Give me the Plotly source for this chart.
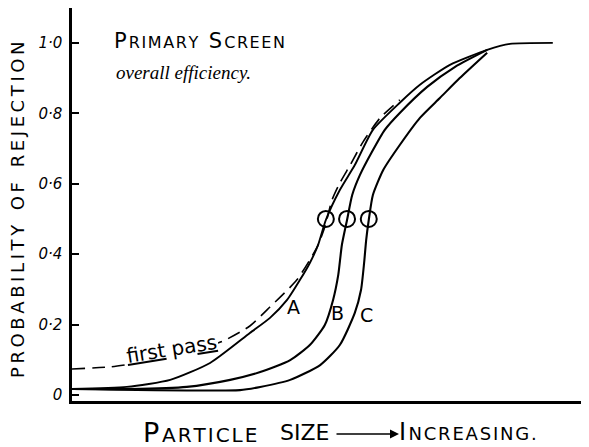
import plotly.graph_objects as go

# particle size (arbitrary units, 0-100 across the axis) and probability of rejection
size_a = [0, 10.6, 19.0, 26.7, 34.4, 38.3, 41.6, 44.1, 46.0, 47.6, 49.1, 51.8, 54.7, 58.2, 63.4, 67.3, 73.1, 80.3, 84.7, 93.0]
prob_a = [0.017, 0.023, 0.043, 0.091, 0.176, 0.219, 0.27, 0.327, 0.375, 0.426, 0.497, 0.582, 0.653, 0.753, 0.83, 0.881, 0.9375, 0.98, 0.997, 1.0]

size_first = [0, 7.4, 15.1, 22.8, 29.2, 34.4, 38.3, 43.5, 47.4, 48.9, 50.3, 51.8, 53.8, 56.3, 59.6, 63.4]
prob_first = [0.074, 0.08, 0.097, 0.122, 0.153, 0.196, 0.25, 0.327, 0.42, 0.477, 0.554, 0.602, 0.653, 0.719, 0.787, 0.838]

size_b = [0, 11.2, 22.2, 30.6, 36.4, 42.2, 46.0, 48.9, 50.5, 51.5, 52.2, 53.2, 54.2, 55.7, 58.0, 60.5, 63.4, 68.7, 74.1, 80.3]
prob_b = [0.017, 0.017, 0.023, 0.043, 0.065, 0.099, 0.142, 0.199, 0.27, 0.341, 0.426, 0.497, 0.568, 0.625, 0.69, 0.753, 0.801, 0.875, 0.932, 0.98]

size_c = [0, 32.5, 36.4, 42.2, 48.0, 51.8, 54.7, 55.9, 56.5, 56.9, 57.4, 58.2, 60.2, 63.4, 67.3, 71.2, 75.0, 80.3]
prob_c = [0.017, 0.014, 0.023, 0.043, 0.085, 0.142, 0.233, 0.298, 0.375, 0.44, 0.497, 0.568, 0.639, 0.71, 0.787, 0.844, 0.9, 0.972]

# 50% cut points marked with circles
cut_size = [49.1, 53.2, 57.4]
cut_prob = [0.5, 0.5, 0.5]

tick_vals = [0, 0.2, 0.4, 0.6, 0.8, 1.0]
tick_text = ["0", "0·2", "0·4", "0·6", "0·8", "1·0"]

# the page body adds an 8px margin, so the figure is drawn 8px smaller/shifted
W, H = 581, 439
L, R, T, B = 64, 0, 0, 46


def px(x):
    # screen pixel -> paper x
    return (x - 8 - L) / (W - L - R)


def py(y):
    # screen pixel -> paper y
    return (H - B - (y - 8)) / (H - T - B)


def spaced(word, gap="\u200a"):
    return gap.join(word)


def sc(txt, size):
    return "<span style='font-size:%dpx'>%s</span>" % (size, txt)


HAND = "DejaVu Sans, Lato, sans-serif"
line = dict(color="black", width=2.1, shape="spline", smoothing=0.6)

fig = go.Figure()
fig.add_trace(go.Scatter(x=size_first, y=prob_first, mode="lines",
                         line=dict(line, dash="13px,7px", width=1.6)))
fig.add_trace(go.Scatter(x=size_a, y=prob_a, mode="lines", line=dict(line, width=1.9)))
fig.add_trace(go.Scatter(x=size_b, y=prob_b, mode="lines", line=line))
fig.add_trace(go.Scatter(x=size_c, y=prob_c, mode="lines", line=line))
fig.add_trace(go.Scatter(x=cut_size, y=cut_prob, mode="markers",
                         marker=dict(symbol="circle-open", size=16, color="black",
                                     line=dict(width=2, color="black"))))

ann = [
    dict(x=px(199), y=py(41),
         text="P\u200a" + sc(spaced("RIMARY"), 16) + "\u2002S\u200a" + sc(spaced("CREEN"), 16),
         font=dict(size=21)),
    dict(x=px(183), y=py(72), text="overall efficiency.",
         font=dict(size=19, family="Liberation Serif", style="italic")),
    dict(x=px(17), y=py(210), textangle=-90,
         text=spaced("PROBABILITY", "\u2009") + "\u2002 " + spaced("OF", "\u2009") + "\u2002 "
         + spaced("REJECTION", "\u2009"),
         font=dict(size=18)),
    dict(x=px(200), y=py(432), text="P\u200a" + sc(spaced("ARTICLE"), 20), font=dict(size=27)),
    dict(x=px(304), y=py(432), text="SIZE", font=dict(size=22)),
    dict(x=px(468), y=py(432), text="I\u200a" + sc(spaced("NCREASING."), 18), font=dict(size=24)),
    dict(x=px(171), y=py(349), text="<u>first</u> pa<u>ss</u>", textangle=-9,
         font=dict(size=20), bgcolor="white"),
    dict(x=px(293), y=py(307), text="A", font=dict(size=19)),
    dict(x=px(337), y=py(313), text="B", font=dict(size=19)),
    dict(x=px(366), y=py(315), text="C", font=dict(size=19)),
]
for a in ann:
    a["font"].setdefault("family", HAND)
    a["font"]["color"] = "black"
    fig.add_annotation(xref="paper", yref="paper", showarrow=False,
                       xanchor="center", yanchor="middle", **a)

# arrow between "SIZE" and "INCREASING"
fig.add_annotation(xref="paper", yref="paper", x=px(399), y=py(434), ax=-64, ay=0,
                   text="", showarrow=True, arrowhead=2, arrowsize=1.2, arrowwidth=1.5,
                   arrowcolor="black")

fig.update_layout(
    width=W, height=H,
    margin=dict(l=L, r=R, t=T, b=B, autoexpand=False),
    paper_bgcolor="white", plot_bgcolor="white",
    showlegend=False,
    font=dict(family=HAND, color="black"),
    xaxis=dict(range=[0, 100], showticklabels=False, ticks="", showgrid=False, zeroline=False,
               showline=True, linecolor="black", linewidth=2.5),
    yaxis=dict(range=[-0.017, 1.099], tickvals=tick_vals, ticktext=tick_text,
               ticks="inside", ticklen=7, tickwidth=1.5, tickcolor="black",
               tickfont=dict(size=15, family=HAND, style="italic"),
               ticklabelstandoff=4,
               showgrid=False, zeroline=False,
               showline=True, linecolor="black", linewidth=2.5),
)

fig.write_html("out.html")
